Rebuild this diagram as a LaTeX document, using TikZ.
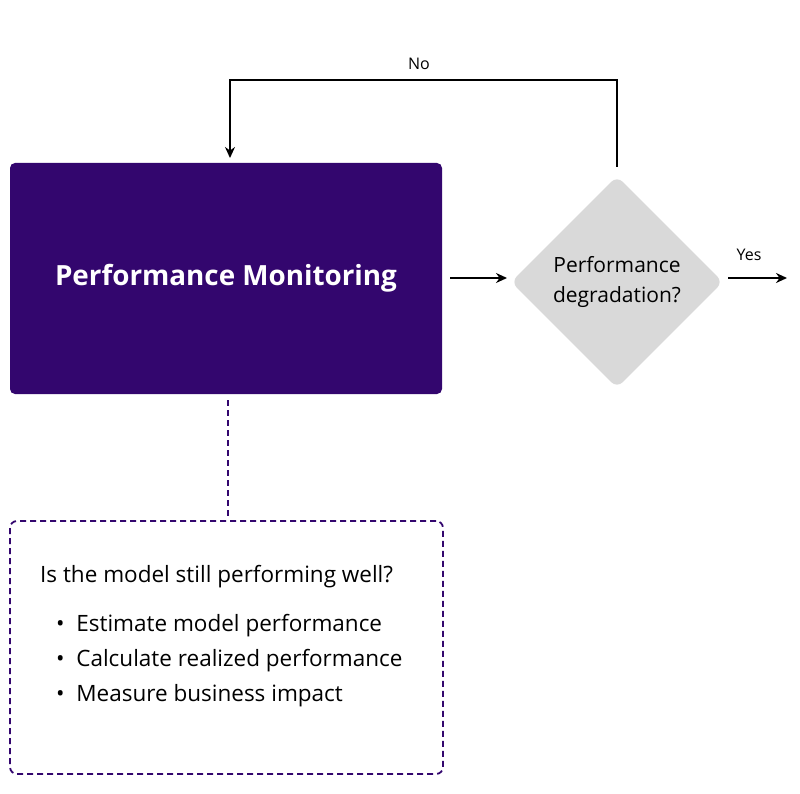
\documentclass[tikz,border=0pt]{standalone}
\usepackage{fontspec}
\setmainfont{Open Sans}
\usetikzlibrary{arrows.meta,shapes.geometric}
\definecolor{purp}{HTML}{33066E}
\definecolor{dgray}{HTML}{D9D9D9}
\begin{document}
\begin{tikzpicture}[x=1pt,y=-1pt,
  arr/.style={line width=2pt,-{Stealth[length=11pt,width=10pt]}},
  lbl/.style={font=\fontsize{16}{19}\selectfont},
  body/.style={font=\fontsize{22.5}{27}\selectfont,anchor=west,inner sep=0pt}]
\useasboundingbox (0,0) rectangle (800,794);
\node[fill=purp,rounded corners=5pt,minimum width=432pt,minimum height=231pt,text=white,font=\fontsize{27.8}{32}\selectfont\bfseries] (pm) at (226,278.5) {Performance Monitoring};
\node[diamond,fill=dgray,rounded corners=8pt,minimum width=212pt,minimum height=212pt,inner sep=0pt,align=center,font=\fontsize{21}{30}\selectfont] (dg) at (617,282) {Performance\\degradation?};
\coordinate (a1) at (450,278);
\coordinate (a2) at (507,278);
\draw[arr] (a1) -- (a2);
\coordinate (y1) at (728,278);
\coordinate (y2) at (787,278);
\draw[arr] (y1) -- (y2);
\node[lbl] (yes) at (749,255) {Yes};
\coordinate (f0) at (617,167);
\coordinate (f1) at (617,80);
\coordinate (f2) at (230,80);
\coordinate (f3) at (230,158);
\draw[arr] (f0) -- (f1) -- (f2) -- (f3);
\node[lbl] (no) at (419,64) {No};
\node[draw=purp,dash pattern=on 6pt off 4pt,line width=1.8pt,rounded corners=7pt,minimum width=433pt,minimum height=253pt] (box) at (226.5,647.5) {};
\draw[purp,line width=1.8pt,dash pattern=on 6pt off 4pt] (pm.south) ++(2,6) -- (box.north -| 228,0);
\node[body] (q) at (40,577) {Is the model still performing well?};
\node[body] (b1) at (56,626) {\textbullet\ \ Estimate model performance};
\node[body] (b2) at (56,661) {\textbullet\ \ Calculate realized performance};
\node[body] (b3) at (56,696) {\textbullet\ \ Measure business impact};
\end{tikzpicture}
\end{document}
